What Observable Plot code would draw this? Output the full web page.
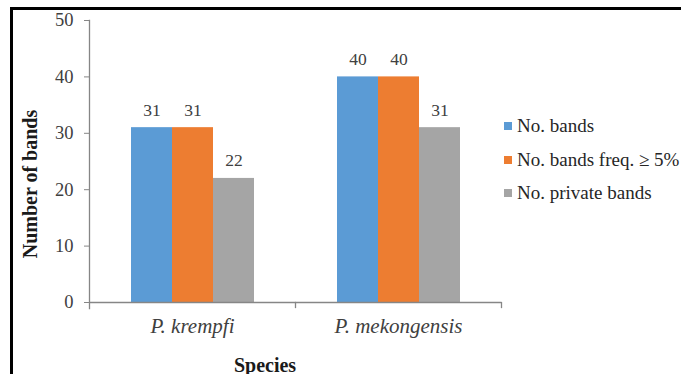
<!DOCTYPE html>
<html>
<head>
<meta charset="utf-8">
<script src="https://cdn.jsdelivr.net/npm/d3@7"></script>
<script src="https://cdn.jsdelivr.net/npm/@observablehq/plot@0.6"></script>
<style>
  html, body { margin: 0; padding: 0; background: #fff; }
  #wrap { position: relative; width: 681px; height: 374px; overflow: hidden; background: #fff;
          font-family: "Liberation Serif", "Times New Roman", serif; }
  #wrap svg { position: absolute; left: 0; top: 0; }
  .border { position: absolute; left: 10px; top: 7px; right: -10px; bottom: -10px;
            border-top: 3px solid #000; border-left: 3px solid #000; }
  .legend-row { position: absolute; left: 504px; height: 20px; line-height: 20px;
                display: flex; align-items: center; white-space: nowrap;
                font-size: 19px; color: #262626; }
  .legend-row .sw { width: 8px; height: 8px; margin-right: 5px; flex: none; }
  .ytitle { position: absolute; width: 220px; height: 24px; line-height: 24px; text-align: center;
            font-weight: bold; font-size: 20px; color: #1a1a1a;
            transform: rotate(-90deg); }
  .xtitle { position: absolute; width: 200px; height: 24px; line-height: 24px; text-align: center;
            font-weight: bold; font-size: 20px; color: #1a1a1a; }
</style>
</head>
<body>
<div id="wrap"></div>
<script>
// ---- Data ----
const species = ["P. krempfi", "P. mekongensis"];
const series = ["No. bands", "No. bands freq. \u2265 5%", "No. private bands"];
const noBands = [31, 40];
const noBandsFreq5 = [31, 40];
const noPrivateBands = [22, 31];
const yTicks = [0, 10, 20, 30, 40, 50];
const xTitle = "Species";
const yTitle = "Number of bands";

// ---- Styles ----
const colors = ["#5B9BD5", "#ED7D31", "#A5A5A5"];
const axisGray = "#868686";

const seriesValues = [noBands, noBandsFreq5, noPrivateBands];
const data = species.flatMap((s, i) =>
  series.map((k, j) => ({species: s, series: k, value: seriesValues[j][i]}))
);

const chart = Plot.plot({
  width: 681,
  height: 374,
  marginLeft: 88,
  marginTop: 20,
  marginBottom: 72,
  marginRight: 180,
  style: {
    fontFamily: "'Liberation Serif', 'Times New Roman', serif",
    fontSize: "18px",
    color: "#404040",
    background: "transparent",
    overflow: "visible"
  },
  fx: {domain: species, padding: 0, label: null},
  x: {domain: series, paddingInner: 0, paddingOuter: 1, axis: null},
  y: {domain: [0, 50], label: null},
  color: {domain: series, range: colors},
  marks: [
    Plot.barY(data, {fx: "species", x: "series", y: "value", fill: "series"}),
    Plot.ruleY([0], {stroke: axisGray, strokeWidth: 1.3}),
    Plot.frame({anchor: "left", facetAnchor: "left", insetBottom: -6, stroke: axisGray, strokeWidth: 1.3}),
    Plot.frame({anchor: "right", insetTop: 282, insetBottom: -5, stroke: axisGray, strokeWidth: 1.3}),
    Plot.axisY({ticks: yTicks, tickSize: 5, tickPadding: 11, fontSize: 18.5, stroke: axisGray, fill: "#404040", label: null, tickFormat: d => String(d)}),
    Plot.axisFx({anchor: "bottom", tickSize: 0, tickPadding: 16, fontSize: 21, fontStyle: "italic", fill: "#404040", label: null}),
    Plot.text(data, {fx: "species", x: "series", y: "value", text: d => String(d.value),
      lineAnchor: "bottom", dy: -12, fontSize: 17.5, fill: "#404040"})
  ]
});

const wrap = document.getElementById("wrap");
wrap.appendChild(chart);

const border = document.createElement("div");
border.className = "border";
wrap.appendChild(border);

// Legend
const legendCenters = [126, 160, 193];
series.forEach((s, i) => {
  const row = document.createElement("div");
  row.className = "legend-row";
  row.style.top = (legendCenters[i] - 10) + "px";
  const sw = document.createElement("span");
  sw.className = "sw";
  sw.style.background = colors[i];
  const t = document.createElement("span");
  t.textContent = s;
  row.appendChild(sw);
  row.appendChild(t);
  wrap.appendChild(row);
});

// Axis titles
const yt = document.createElement("div");
yt.className = "ytitle";
yt.textContent = yTitle;
yt.style.left = (29.5 - 110) + "px";
yt.style.top = (184 - 12) + "px";
wrap.appendChild(yt);

const xt = document.createElement("div");
xt.className = "xtitle";
xt.textContent = xTitle;
xt.style.left = (265 - 100) + "px";
xt.style.top = "353px";
wrap.appendChild(xt);
</script>
</body>
</html>
